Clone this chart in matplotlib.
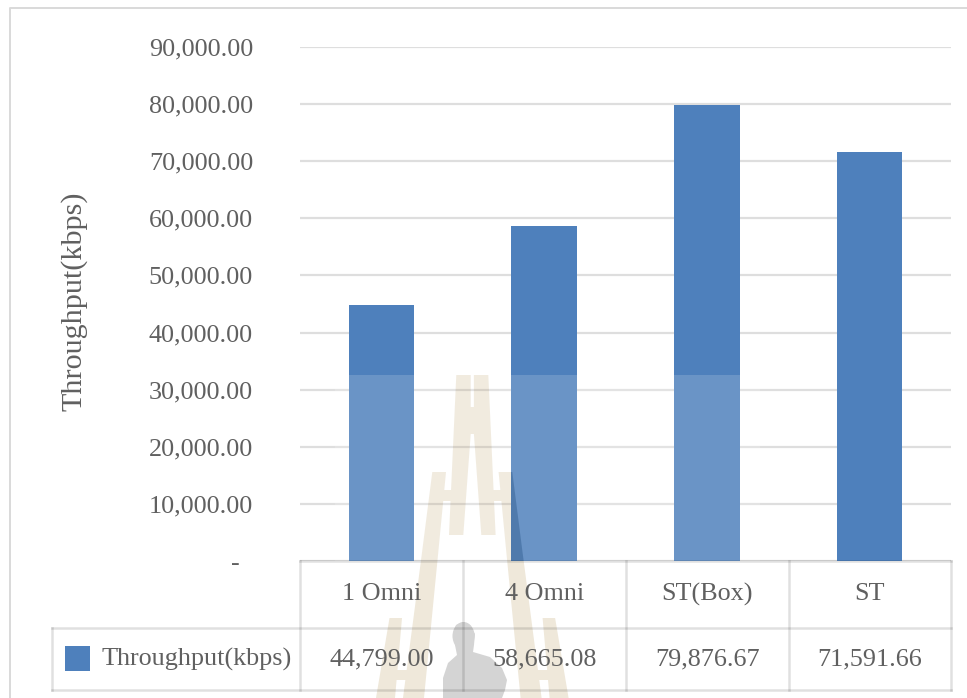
import numpy as np
import matplotlib
matplotlib.use("Agg")
import matplotlib.pyplot as plt
from matplotlib.patches import Polygon, Rectangle, Ellipse

categories = ["1 Omni", "4 Omni", "ST(Box)", "ST"]
throughput = [44799.00, 58665.08, 79876.67, 71591.66]
yticks = [0, 10000, 20000, 30000, 40000, 50000, 60000, 70000, 80000, 90000]
series_name = "Throughput(kbps)"

W, H = 967, 698
TEXT = "#606060"
BAR = "#4E80BC"
TAN = "#EFE8DA"

plt.rcParams["font.family"] = ["Liberation Serif", "DejaVu Serif"]
plt.rcParams["font.size"] = 18.8

fig = plt.figure(figsize=(W / 100, H / 100), dpi=100, facecolor="white")

# pixel-space layer under the chart for the seal
bg = fig.add_axes([0, 0, 1, 1], zorder=0)
bg.set_xlim(0, W)
bg.set_ylim(H, 0)
bg.axis("off")

ax = fig.add_axes([300 / W, 1 - 561 / H, 651 / W, 514 / H], zorder=1)
ax.patch.set_alpha(0)

# seal outline, left half; the right half is mirrored
MID = 472.3
seal_left = [
    [(456.3, 375), (470.7, 375), (470.7, 434), (463.3, 535), (449, 535)],
    [(470, 407), (474.6, 407), (474.6, 434), (470, 434)],
    [(432.3, 472), (446, 472), (438, 555), (424, 698), (403, 698), (421.7, 555)],
    [(443, 490), (456, 490), (455, 501), (442, 501)],
    [(389.5, 618), (402, 618), (395, 698), (376, 698)],
    [(395, 670), (412, 670), (410, 680), (394, 680)],
]
seal_parts = []
for pts in seal_left:
    seal_parts.append(pts)
    seal_parts.append([(2 * MID - x, y) for x, y in pts])
for pts in seal_parts:
    bg.add_patch(Polygon(pts, closed=True, fc=TAN, ec="none"))

# seated figure at the foot of the seal
figure_pts = [(463, 622), (470, 625), (475, 634), (474, 645), (473, 652), (490, 657),
              (502, 668), (507, 680), (505, 690), (502, 698), (443, 698), (443, 678),
              (448, 663), (457, 655), (455, 645), (453, 634), (456, 625)]
bg.add_patch(Polygon(figure_pts, closed=True, fc="#D4D4D4", ec="none"))
bg.add_patch(Ellipse((463.5, 636), 22, 28, fc="#D4D4D4", ec="none"))

x = np.arange(len(categories))
bars = ax.bar(x, throughput, width=0.403, color=BAR, zorder=2)
ax.set_xlim(-0.5, len(categories) - 0.5)
ax.set_ylim(0, 90000)

ax.set_yticks(yticks)
ax.set_yticklabels(["-  " if v == 0 else f"{v:,.2f}" for v in yticks], color=TEXT)
ax.tick_params(axis="y", length=0, pad=33.8)
ax.set_xticks([])
ax.grid(axis="y", color="black", alpha=0.13, lw=1.6, zorder=1)
ax.set_axisbelow(True)
for s in ax.spines.values():
    s.set_visible(False)
ax.set_ylabel(series_name, color=TEXT, fontsize=21.7)
ax.yaxis.set_label_coords(-0.327, 0.505)

# pale wash of the seal over the lower part of the first three bars
ax.add_patch(Rectangle((335, 375), 425, 186, transform=bg.transData, fc="white",
                       alpha=0.16, ec="none", zorder=3, clip_on=False))
# right leg of the seal showing through the second bar
for b in bars:
    for pts in seal_parts:
        p = Polygon(pts, closed=True, transform=bg.transData, fc="#3E6A9C", alpha=0.6,
                    ec="none", zorder=4)
        ax.add_patch(p)
        p.set_clip_path(b)

# data table under the axis
LINE = dict(color="black", alpha=0.12, lw=1.8, transform=bg.transData, clip_on=False, zorder=5)
col_edges = [300, 463, 626, 788.5, 951]
ROW0, ROW1, ROW2 = 561, 628, 690
ax.plot([300, 951], [ROW0, ROW0], **LINE)
ax.plot([51.5, 951], [ROW1, ROW1], **LINE)
ax.plot([51.5, 951], [ROW2, ROW2], **LINE)
ax.plot([51.5, 51.5], [ROW1, ROW2], **LINE)
for ce in col_edges:
    ax.plot([ce, ce], [ROW0, ROW2], **LINE)

for i, (cat, val) in enumerate(zip(categories, throughput)):
    cx = (col_edges[i] + col_edges[i + 1]) / 2
    ax.text(cx, 592, cat, transform=bg.transData, ha="center", va="center_baseline",
            color=TEXT, clip_on=False, zorder=6)
    ax.text(cx, 657, f"{val:,.2f}", transform=bg.transData, ha="center", va="center_baseline",
            color=TEXT, clip_on=False, zorder=6)

ax.add_patch(Rectangle((65, 646), 25, 25, transform=bg.transData, fc=BAR, ec="none",
                       clip_on=False, zorder=6))
ax.text(102, 657, series_name, transform=bg.transData, ha="left", va="center_baseline",
        color=TEXT, clip_on=False, zorder=6)

# chart area frame: only top and left are inside the canvas
bg.plot([9.5, 9.5, W], [H, 8, 8], color="#D9D9D9", lw=1.4)

fig.savefig("out.png", dpi=100)
